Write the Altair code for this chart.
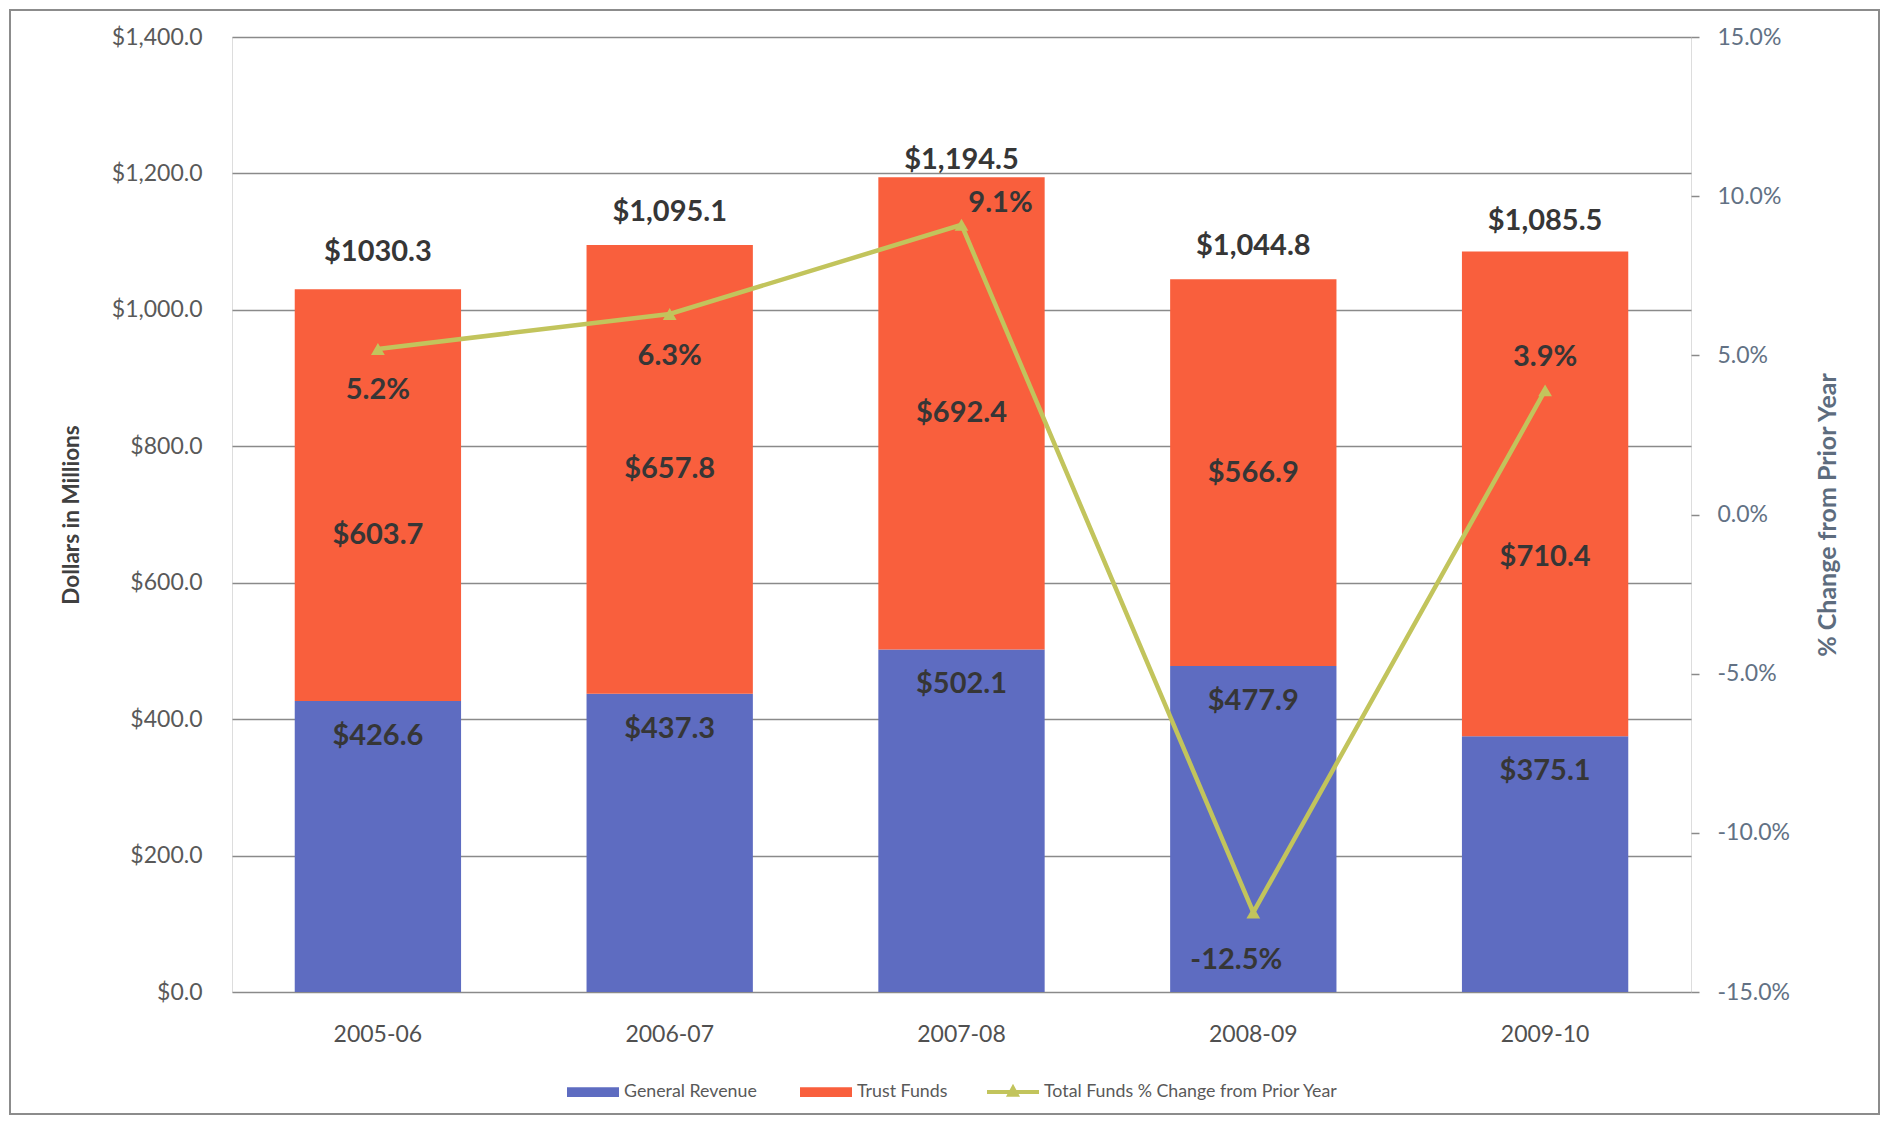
import altair as alt
import pandas as pd

# ---------------- data ----------------
years = ["2005-06", "2006-07", "2007-08", "2008-09", "2009-10"]
general_revenue = [426.6, 437.3, 502.1, 477.9, 375.1]
trust_funds = [603.7, 657.8, 692.4, 566.9, 710.4]
totals = [1030.3, 1095.1, 1194.5, 1044.8, 1085.5]
total_labels = ["$1030.3", "$1,095.1", "$1,194.5", "$1,044.8", "$1,085.5"]
pct_change = [5.2, 6.3, 9.1, -12.5, 3.9]
pct_labels = ["5.2%", "6.3%", "9.1%", "-12.5%", "3.9%"]

bar_series = ["General Revenue", "Trust Funds"]
line_series = "Total Funds % Change from Prior Year"

# ---------------- styling / label nudges (pixels) ----------------
BLUE = "#5e6cc1"
ORANGE = "#f95f3d"
OLIVE = "#c2c45c"
GRID = "#8a8a8a"
LABEL_DARK = "#363636"
FONT = "Lato"

total_dy = [-37, -33, -17, -33, -31]
trust_dy = [40, 0, 0, 0, 63]
pct_dx = [0, 0, 39, -17, 0]
pct_dy = [41, 42, -22, 48, -33]

# ---------------- tables ----------------
bars_rows = []
for i, y in enumerate(years):
    bars_rows.append({"year": y, "series": bar_series[0], "value": general_revenue[i], "ord": 0})
    bars_rows.append({"year": y, "series": bar_series[1], "value": trust_funds[i], "ord": 1})
bars_df = pd.DataFrame(bars_rows)

lab_df = pd.DataFrame({
    "year": years,
    "general": general_revenue,
    "general_txt": ["$%.1f" % v for v in general_revenue],
    "trust_mid": [g + t / 2 for g, t in zip(general_revenue, trust_funds)],
    "trust_txt": ["$%.1f" % v for v in trust_funds],
    "trust_dy": trust_dy,
    "total": totals,
    "total_txt": total_labels,
    "total_dy": total_dy,
})

pct_df = pd.DataFrame({
    "year": years,
    "pct": pct_change,
    "pct_txt": pct_labels,
    "dx": pct_dx,
    "dy": pct_dy,
    "series": [line_series] * len(years),
})

# ---------------- encodings ----------------
x_enc = alt.X(
    "year:N", sort=years, title=None,
    scale=alt.Scale(paddingInner=0.43, paddingOuter=0.215),
    axis=alt.Axis(labelAngle=0, ticks=False, domain=False, labelFont=FONT,
                  labelFontSize=23, labelColor="#505050", labelPadding=31),
)

left_axis = alt.Axis(
    title="Dollars in Millions", values=list(range(0, 1401, 200)), format="$,.1f",
    grid=True, gridColor=GRID, gridWidth=1.5, ticks=False, domain=False,
    labelFont=FONT, labelFontSize=23, labelColor="#595959", labelPadding=30,
    titleFont=FONT, titleFontSize=22.5, titleFontWeight="bold", titleColor="#404040",
    titlePadding=28,
)
left_scale = alt.Scale(domain=[0, 1400], nice=False)

right_axis = alt.Axis(
    title="% Change from Prior Year", orient="right", values=[-15, -10, -5, 0, 5, 10, 15],
    labelExpr="(datum.value < 0 ? '-' : '') + format(abs(datum.value), '.1f') + '%'",
    grid=False, ticks=True, tickSize=8, tickColor=GRID, tickWidth=1.5, domain=False,
    labelFont=FONT, labelFontSize=23, labelColor="#627184", labelPadding=18,
    titleFont=FONT, titleFontSize=25, titleFontWeight="bold", titleColor="#5d6c7e",
    titlePadding=51, titleAngle=270,
)
right_scale = alt.Scale(domain=[-15, 15], nice=False)

RECT_PATH = "M-1,-0.19H1V0.19H-1Z"
LINE_PATH = "M-1,-0.08H1V0.08H-1Z M0,-0.32L0.27,0.18L-0.27,0.18Z"

bar_legend = alt.Legend(
    title=None, orient="none", legendX=335, legendY=1029, direction="horizontal",
    symbolType=RECT_PATH, symbolSize=2704, symbolStrokeWidth=0,
    labelFont=FONT, labelFontSize=17.8, labelColor="#595959", labelOffset=5,
    columnPadding=43, labelLimit=0,
)
line_legend = alt.Legend(
    title=None, orient="none", legendX=755, legendY=1029, direction="horizontal",
    symbolType=LINE_PATH, symbolSize=2704, symbolStrokeWidth=0,
    labelFont=FONT, labelFontSize=17.8, labelColor="#595959", labelOffset=5,
    labelLimit=0,
)

# ---------------- bar group ----------------
bars = alt.Chart(bars_df).mark_bar().encode(
    x=x_enc,
    y=alt.Y("value:Q", stack="zero", scale=left_scale, axis=left_axis),
    color=alt.Color("series:N", scale=alt.Scale(domain=bar_series, range=[BLUE, ORANGE]),
                    legend=bar_legend),
    order=alt.Order("ord:Q"),
)

txt = dict(font=FONT, fontWeight="bold", fontSize=29, color=LABEL_DARK,
           align="center", baseline="middle")

gen_text = alt.Chart(lab_df).mark_text(dy=35, **txt).encode(
    x=x_enc,
    y=alt.Y("general:Q", scale=left_scale, axis=left_axis),
    text="general_txt:N",
)
trust_text = alt.Chart(lab_df).mark_text(dy={"expr": "datum.trust_dy"}, **txt).encode(
    x=x_enc,
    y=alt.Y("trust_mid:Q", scale=left_scale, axis=left_axis),
    text="trust_txt:N",
)
total_text = alt.Chart(lab_df).mark_text(dy={"expr": "datum.total_dy"}, **txt).encode(
    x=x_enc,
    y=alt.Y("total:Q", scale=left_scale, axis=left_axis),
    text="total_txt:N",
)

border = alt.Chart(alt.Data(values=[{"a": 1}])).mark_rect(
    fill=None, stroke="#8c8c8c", strokeWidth=2
).encode(
    x=alt.value(-222), x2=alt.value(1647), y=alt.value(-27), y2=alt.value(1077)
)

bar_group = alt.layer(bars, gen_text, trust_text, total_text, border)

# ---------------- line group ----------------
line = alt.Chart(pct_df).mark_line(color=OLIVE, strokeWidth=4.5).encode(
    x=x_enc,
    y=alt.Y("pct:Q", scale=right_scale, axis=right_axis),
)
points = alt.Chart(pct_df).mark_point(shape="triangle-up", filled=True, size=190, opacity=1).encode(
    x=x_enc,
    y=alt.Y("pct:Q", scale=right_scale, axis=right_axis),
    color=alt.Color("series:N", scale=alt.Scale(domain=[line_series], range=[OLIVE]),
                    legend=line_legend),
)
pct_text = alt.Chart(pct_df).mark_text(
    dx={"expr": "datum.dx"}, dy={"expr": "datum.dy"}, **txt
).encode(
    x=x_enc,
    y=alt.Y("pct:Q", scale=right_scale, axis=right_axis),
    text="pct_txt:N",
)
line_group = alt.layer(line, points, pct_text)

chart = alt.layer(bar_group, line_group).resolve_scale(
    y="independent", color="independent"
).properties(
    width=1459, height=955,
    autosize=alt.AutoSizeParams(type="none"),
    padding={"left": 224, "top": 29, "right": 190, "bottom": 124},
).configure_view(
    stroke=GRID, strokeWidth=1.5
).configure(
    font=FONT, background="white"
)

chart.save("out.html", embed_options={"renderer": "svg", "actions": False})
